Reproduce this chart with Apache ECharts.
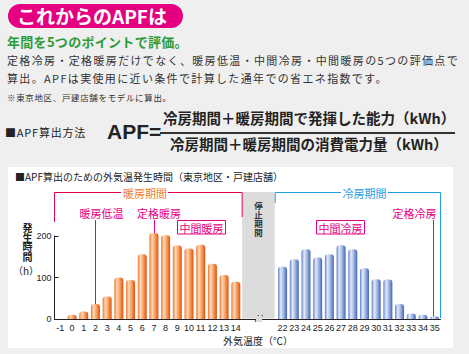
<!DOCTYPE html>
<html>
<head>
<meta charset="utf-8">
<script src="https://cdn.jsdelivr.net/npm/echarts@6/dist/echarts.min.js"></script>
<style>
html, body { margin: 0; padding: 0; width: 469px; height: 354px; overflow: hidden; background: #efefef; font-family: "Noto Sans CJK JP", sans-serif; }
#chart { position: absolute; left: 0; top: 0; width: 469px; height: 354px; }
.t { position: absolute; white-space: nowrap; color: #333; }
#pill { left: 8px; top: 4px; width: 175px; height: 24px; border-radius: 12px; background: #e4007f; color: #fff; font-weight: bold; font-size: 19px; line-height: 24px; padding-left: 9px; box-sizing: border-box; }
#lead { left: 7px; top: 33px; font-size: 13px; line-height: 18px; font-weight: bold; color: #2e9b3a; letter-spacing: 0.3px; }
.body { left: 7px; font-size: 11px; line-height: 16px; letter-spacing: 1.35px; }
#note { left: 7px; top: 91px; font-size: 8.5px; line-height: 12px; letter-spacing: 0.65px; }
#method { left: 5px; top: 124px; font-size: 11px; line-height: 16px; letter-spacing: 0.8px; color: #222; }
#apf { left: 107px; top: 119px; font-family: "Liberation Sans", Arial, sans-serif; font-weight: bold; font-size: 21px; line-height: 26px; color: #222; }
.frac { font-size: 14.5px; line-height: 18px; font-weight: bold; color: #222; }
#num { left: 163px; top: 109px; }
#den { left: 170px; top: 135px; }
#bar { position: absolute; left: 160px; top: 132px; width: 295px; height: 1.5px; background: #333; }
.vert { position: absolute; writing-mode: vertical-rl; text-orientation: upright; font-weight: bold; white-space: nowrap; }
#yname { left: 22px; top: 223px; font-size: 10px; line-height: 10px; letter-spacing: -0.3px; color: #222; }
#stop { left: 253.5px; top: 202px; font-size: 8.5px; line-height: 9px; letter-spacing: 0.5px; color: #333; }
</style>
</head>
<body>
<div id="chart"></div>
<div class="t" id="pill">これからのAPFは</div>
<div class="t" id="lead">年間を5つのポイントで評価。</div>
<div class="t body" style="top:52px">定格冷房・定格暖房だけでなく、暖房低温・中間冷房・中間暖房の5つの評価点で</div>
<div class="t body" style="top:70px">算出。APFは実使用に近い条件で計算した通年での省エネ指数です。</div>
<div class="t" id="note">※東京地区、戸建店舗をモデルに算出。</div>
<div class="t" id="method">■APF算出方法</div>
<div class="t" id="apf">APF=</div>
<div class="t frac" id="num">冷房期間＋暖房期間で発揮した能力（kWh）</div>
<div id="bar"></div>
<div class="t frac" id="den">冷房期間＋暖房期間の消費電力量（kWh）</div>
<div class="vert" id="yname">発生時間</div>
<div class="vert" id="stop">停止期間</div>

<script>
// 外気温 (℃) のラベル
const heatTemps = ['-1', '0', '1', '2', '3', '4', '5', '6', '7', '8', '9', '10', '11', '12', '13', '14']
const gapLabels = ['', '', ''] // 停止期間 (15〜21℃) 省略部分
const coolTemps = ['22', '23', '24', '25', '26', '27', '28', '29', '30', '31', '32', '33', '34', '35']

// 発生時間 (h)
const heatHours = [0, 10, 18, 36, 54, 100, 94, 156, 207, 202, 177, 170, 179, 133, 106, 90]
const coolHours = [126, 144, 168, 148, 156, 178, 168, 122, 96, 95, 36, 13, 10, 6]

const yTicks = [0, 100, 200]

const categories = heatTemps.concat(gapLabels, coolTemps)
const heatData = heatHours.concat(new Array(gapLabels.length + coolTemps.length).fill('-'))
const coolData = new Array(heatTemps.length + gapLabels.length).fill('-').concat(coolHours)

const PINK = '#e4007f'
const RED = '#e3004f'
const ORANGE = '#f07c2a'
const BLUE = '#1ea0e6'
const SANS = '"Liberation Sans", Arial, sans-serif'
const JP = '"Noto Sans CJK JP", sans-serif'

const orangeFill = new echarts.graphic.LinearGradient(0, 0, 1, 0, [
  { offset: 0, color: '#ee7630' },
  { offset: 0.3, color: '#fdd9b8' },
  { offset: 0.55, color: '#f8ad74' },
  { offset: 0.85, color: '#ed6e26' },
  { offset: 1, color: '#d9521a' }
])
const blueFill = new echarts.graphic.LinearGradient(0, 0, 1, 0, [
  { offset: 0, color: '#5f82cc' },
  { offset: 0.3, color: '#e4ebf8' },
  { offset: 0.55, color: '#b0c1e8' },
  { offset: 0.85, color: '#6586cc' },
  { offset: 1, color: '#4262ac' }
])

const chart = echarts.init(document.getElementById('chart'), null, { renderer: 'svg' })

chart.setOption({
  animation: false,
  grid: { left: 54.5, top: 236, width: 386, height: 83 },
  xAxis: {
    type: 'category',
    data: categories,
    axisTick: { show: false },
    axisLine: { lineStyle: { color: '#222', width: 1 } },
    axisLabel: { interval: 0, margin: 4, fontSize: 9, fontFamily: SANS, color: '#222' }
  },
  yAxis: {
    type: 'value',
    min: yTicks[0],
    max: yTicks[yTicks.length - 1],
    interval: 100,
    splitLine: { show: false },
    axisLine: { show: true, lineStyle: { color: '#222', width: 1 } },
    axisTick: { show: true, inside: true, length: 4, lineStyle: { color: '#222' } },
    axisLabel: { margin: 3, fontSize: 9, fontFamily: SANS, color: '#222' }
  },
  series: [
    {
      type: 'bar',
      data: heatData,
      barWidth: 9,
      barGap: '-100%',
      clip: false,
      itemStyle: { color: orangeFill, borderRadius: [3, 3, 0, 0] }
    },
    {
      type: 'bar',
      data: coolData,
      barWidth: 9,
      clip: false,
      itemStyle: { color: blueFill, borderRadius: [3, 3, 0, 0] }
    }
  ]
})

// 注釈の位置はデータ座標から計算
const px = (i, v) => chart.convertToPixel({ seriesIndex: 0 }, [i, v])
const slot = px(1, 0)[0] - px(0, 0)[0]
const baseY = px(0, 0)[1]
const gridLeft = px(0, 0)[0] - slot / 2
const gridRight = px(categories.length - 1, 0)[0] + slot / 2
const gapStart = heatTemps.length
const bandL = px(gapStart, 0)[0] - slot / 2 + 0.5
const bandR = px(gapStart + gapLabels.length - 1, 0)[0] + slot / 2 - 2

const lowIdx = heatTemps.indexOf('2')
const ratedHeatIdx = heatTemps.indexOf('7')
const ratedCoolIdx = categories.length - 1
const lowTop = px(lowIdx, heatHours[lowIdx])
const ratedHeatTop = px(ratedHeatIdx, heatHours[ratedHeatIdx])
const ratedCoolTop = px(ratedCoolIdx, coolHours[coolHours.length - 1])

function text(str, x, y, color, size, align) {
  return {
    type: 'text', x: x, y: y, z: 10,
    style: { text: str, fill: color, fontSize: size, fontFamily: JP, align: align || 'center', verticalAlign: 'middle' }
  }
}
function line(points, color) {
  return { type: 'polyline', z: 10, shape: { points: points }, style: { stroke: color, lineWidth: 1, fill: null } }
}

const topY = 192.5
chart.setOption({
  graphic: [
    { type: 'rect', z: -100, shape: { x: 8, y: 167, width: 445, height: 181 }, style: { fill: '#fff' } },
    { type: 'rect', z: -50, shape: { x: bandL, y: topY - 0.5, width: bandR - bandL, height: baseY - topY }, style: { fill: '#dcdcdc' } },
    text('■APF算出のための外気温発生時間（東京地区・戸建店舗）', 15, 176, '#222', 10, 'left'),

    // 暖房期間 bracket
    line([[gridLeft, 222], [gridLeft, topY], [121, topY]], RED),
    line([[168, topY], [bandL, topY], [bandL, 217]], RED),
    text('暖房期間', 145, topY, ORANGE, 11),
    // 冷房期間 bracket
    line([[bandR + 0.5, 203], [bandR + 0.5, topY], [341, topY]], BLUE),
    line([[388, topY], [gridRight, topY], [gridRight, baseY - 1]], BLUE),
    text('冷房期間', 364.5, topY, BLUE, 11),

    // 評価点
    text('暖房低温', 101.5, 213, PINK, 11),
    line([[Math.round(lowTop[0]) + 0.5, 220], [Math.round(lowTop[0]) + 0.5, lowTop[1]]], PINK),
    text('定格暖房', 159, 213, PINK, 11),
    line([[Math.round(ratedHeatTop[0]) + 0.5, 220], [Math.round(ratedHeatTop[0]) + 0.5, ratedHeatTop[1]]], PINK),
    { type: 'rect', z: 10, shape: { x: 177.5, y: 220.5, width: 48, height: 13.5 }, style: { fill: '#fff', stroke: PINK, lineWidth: 1 } },
    text('中間暖房', 201.5, 227.5, PINK, 11),
    { type: 'rect', z: 10, shape: { x: 316.5, y: 220.5, width: 48, height: 13.5 }, style: { fill: '#fff', stroke: PINK, lineWidth: 1 } },
    text('中間冷房', 340.5, 227.5, PINK, 11),
    text('定格冷房', 414.5, 213, PINK, 11),
    line([[Math.round(ratedCoolTop[0]) - 1.5, 220], [Math.round(ratedCoolTop[0]) - 1.5, ratedCoolTop[1]]], PINK),

    // 軸名
    text('（h）', 26, 270, '#222', 10),
    text('外気温度（℃）', 258, 340, '#222', 10),

    // 軸の省略記号
    { type: 'rect', z: 20, shape: { x: 256, y: 316, width: 6, height: 6 }, style: { fill: '#dcdcdc' } },
    line([[255, 322], [258.5, 315]], '#333'),
    line([[259, 322], [262.5, 315]], '#333')
  ]
})
</script>
</body>
</html>
